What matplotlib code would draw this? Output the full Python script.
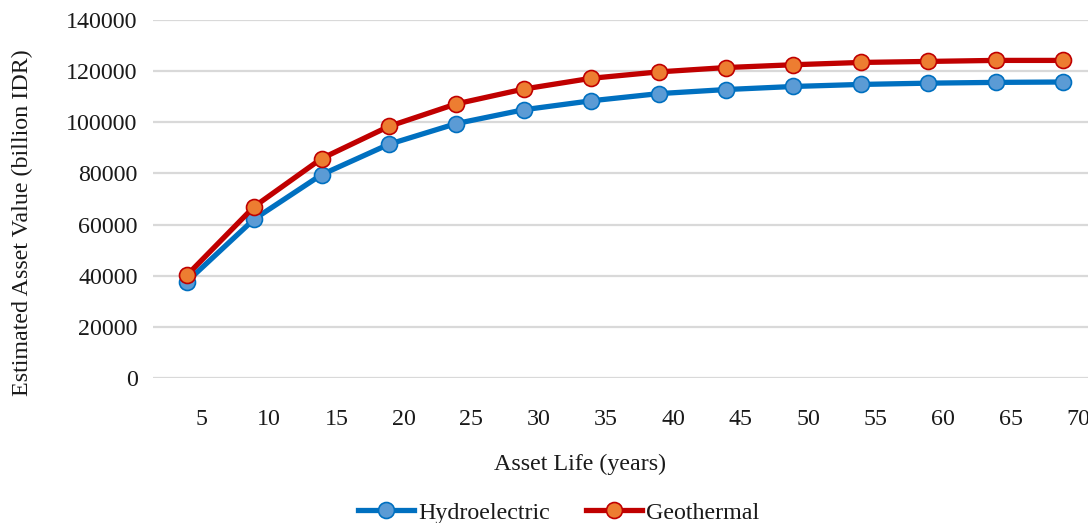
import numpy as np
import matplotlib.pyplot as plt
import matplotlib.transforms as mtransforms

plt.rcParams['font.family'] = ['Liberation Serif', 'DejaVu Serif']

years = [5, 10, 15, 20, 25, 30, 35, 40, 45, 50, 55, 60, 65, 70]
hydro = [37600, 62100, 79500, 91400, 99500, 104900, 108400, 111200,
         112800, 114000, 114800, 115300, 115600, 115750]
geo = [40100, 67000, 85800, 98400, 107200, 113000, 117200, 119700,
       121400, 122500, 123400, 123800, 124200, 124200]
yticks = np.arange(0, 140001, 20000)

W, H = 1088, 523
FS = 17.3
fig = plt.figure(figsize=(W / 100, H / 100), dpi=100)
# plot area in pixels: left 153, top 20, bottom 378, category width ~67.4
ax = fig.add_axes([153 / W, (H - 378) / H, 943.6 / W, 358 / H])

x = np.arange(1, len(years) + 1)
ax.plot(x, hydro, color='#0070C0', lw=3.8, marker='o', ms=11.5,
        mfc='#5B9BD5', mec='#0070C0', mew=1.2, label='Hydroelectric',
        solid_joinstyle='round', zorder=3)
ax.plot(x, geo, color='#C00000', lw=3.8, marker='o', ms=11.5,
        mfc='#ED7D31', mec='#C00000', mew=1.2, label='Geothermal',
        solid_joinstyle='round', zorder=3)

ax.set_xlim(0.5, len(years) + 0.5)
ax.set_ylim(0, 140000)
ax.set_yticks(yticks)
ax.set_yticklabels([str(v) for v in yticks])
ax.set_xticks(x)
ax.set_xticklabels([str(v) for v in years])
ax.yaxis.grid(True, color='#d9d9d9', lw=1.6)
ax.set_axisbelow(True)
for s in ax.spines.values():
    s.set_visible(False)
ax.tick_params(axis='both', length=0, labelsize=FS, colors='#1a1a1a')
ax.tick_params(axis='y', pad=11)
ax.tick_params(axis='x', pad=22)

# x labels sit a little right of their points
shift = mtransforms.ScaledTranslation(15 / 100, 0, fig.dpi_scale_trans)
for lbl in ax.get_xticklabels():
    lbl.set_transform(lbl.get_transform() + shift)

fig.text(22 / W, 1 - 223 / H, 'Estimated Asset Value (billion IDR)',
         rotation=90, ha='center', va='center', fontsize=FS, color='#1a1a1a')
fig.text(580 / W, 1 - 464 / H, 'Asset Life (years)', ha='center', va='center',
         fontsize=FS, color='#1a1a1a')

fig.legend(loc='center', bbox_to_anchor=(559 / W, 1 - 513 / H), ncol=2,
           frameon=False, fontsize=FS, handlelength=2.3, handletextpad=0.2,
           columnspacing=1.5, labelcolor='#1a1a1a')

fig.savefig('out.png', dpi=100)
